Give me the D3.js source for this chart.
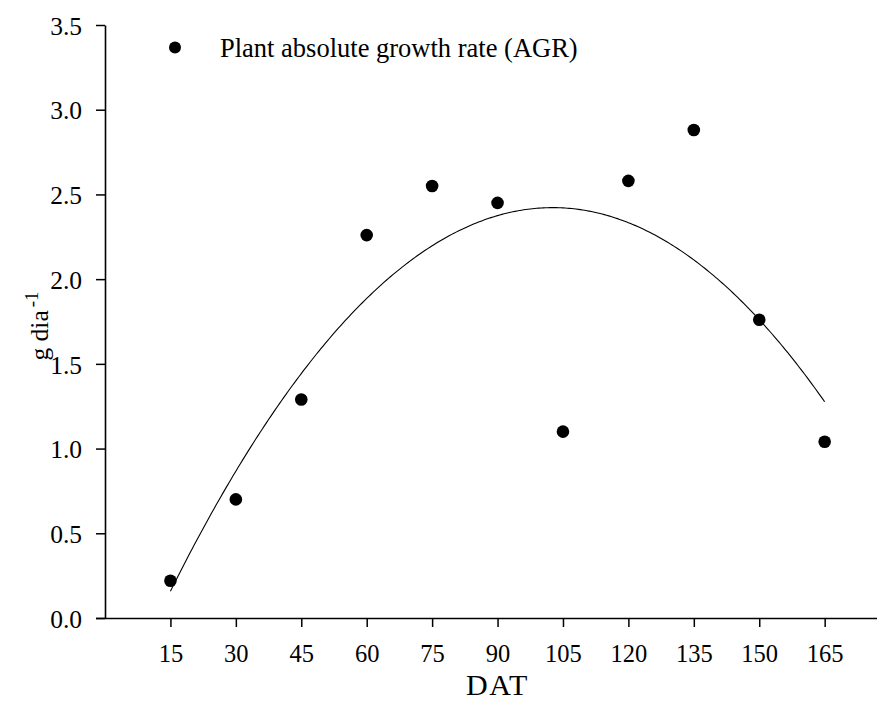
<!DOCTYPE html>
<html>
<head>
<meta charset="utf-8">
<script src="https://cdn.jsdelivr.net/npm/d3@7"></script>
<style>
  html, body { margin: 0; padding: 0; background: #fff; }
  svg { display: block; }
  text { font-family: "Liberation Serif", "Times New Roman", serif; fill: #000; }
</style>
</head>
<body>
<svg id="chart" width="877" height="701"></svg>
<script>
// Days after transplanting and plant absolute growth rate (g dia^-1)
const days = [15, 30, 45, 60, 75, 90, 105, 120, 135, 150, 165];
const agr = [0.22, 0.70, 1.29, 2.26, 2.55, 2.45, 1.10, 2.58, 2.88, 1.76, 1.04];
const xTicks = [15, 30, 45, 60, 75, 90, 105, 120, 135, 150, 165];
const yTicks = [0, 0.5, 1.0, 1.5, 2.0, 2.5, 3.0, 3.5];
const legendLabel = "Plant absolute growth rate (AGR)";

const svg = d3.select("#chart");
const plotLeft = 105, plotRight = 877, plotTop = 25, plotBottom = 618;

const x = d3.scaleLinear().domain([0, 177]).range([plotLeft, plotRight]);
const y = d3.scaleLinear().domain([0, 3.5]).range([plotBottom, plotTop]);

// Second-order polynomial fitted by least squares to the measured rates
function quadFit(xs, ys) {
  const s = [0, 0, 0, 0, 0], t = [0, 0, 0];
  xs.forEach((xi, i) => {
    let p = 1;
    for (let k = 0; k < 5; k++) { s[k] += p; if (k < 3) t[k] += p * ys[i]; p *= xi; }
  });
  const A = [[s[0], s[1], s[2], t[0]], [s[1], s[2], s[3], t[1]], [s[2], s[3], s[4], t[2]]];
  for (let c = 0; c < 3; c++) {
    for (let r = c + 1; r < 3; r++) {
      const f = A[r][c] / A[c][c];
      for (let k = c; k < 4; k++) A[r][k] -= f * A[c][k];
    }
  }
  const b = [0, 0, 0];
  for (let r = 2; r >= 0; r--) {
    let v = A[r][3];
    for (let k = r + 1; k < 3; k++) v -= A[r][k] * b[k];
    b[r] = v / A[r][r];
  }
  return xv => b[0] + b[1] * xv + b[2] * xv * xv;
}
const fit = quadFit(days, agr);
const fitPts = d3.range(days[0], days[days.length - 1] + 0.01, 0.5).map(d => [d, fit(d)]);

// Axes
const xAxis = d3.axisBottom(x).tickValues(xTicks).tickSize(9).tickPadding(18).tickSizeOuter(0);
const yAxis = d3.axisLeft(y).tickValues(yTicks).tickSize(9).tickPadding(14).tickSizeOuter(0)
  .tickFormat(d3.format(".1f"));

const gx = svg.append("g").attr("transform", `translate(0,${plotBottom})`).call(xAxis);
const gy = svg.append("g").attr("transform", `translate(${plotLeft},0)`).call(yAxis);
[gx, gy].forEach(g => {
  g.select(".domain").attr("stroke", "#000").attr("stroke-width", 1.6);
  g.selectAll(".tick line").attr("stroke", "#000").attr("stroke-width", 1.5);
  g.selectAll(".tick text").attr("font-size", 24.5).attr("font-family", "Liberation Serif");
});
gy.selectAll(".tick text").attr("font-size", 25.5).attr("dy", "0.36em");
// x-axis line starts at the 0.0 tick
gx.select(".domain").attr("d", `M${plotLeft - 9},0.5H${plotRight}`);

// Fitted curve
svg.append("path")
  .datum(fitPts)
  .attr("fill", "none")
  .attr("stroke", "#000")
  .attr("stroke-width", 1.1)
  .attr("d", d3.line().x(d => x(d[0])).y(d => y(d[1])));

// Observed points
svg.append("g").selectAll("circle")
  .data(days.map((d, i) => [d, agr[i]]))
  .join("circle")
  .attr("cx", d => x(d[0]))
  .attr("cy", d => y(d[1]))
  .attr("r", 6.3)
  .attr("fill", "#000");

// Legend
const lg = svg.append("g");
lg.append("circle").attr("cx", 175).attr("cy", 47.5).attr("r", 6).attr("fill", "#000");
lg.append("text").attr("x", 220).attr("y", 57).attr("font-size", 26.5).text(legendLabel);

// Axis titles
svg.append("text")
  .attr("x", x(90)).attr("y", 695)
  .attr("text-anchor", "middle")
  .attr("font-size", 30)
  .attr("letter-spacing", 1.5)
  .text("DAT");

const yl = svg.append("text")
  .attr("transform", `translate(48,326) rotate(-90)`)
  .attr("text-anchor", "middle")
  .attr("font-size", 25.5);
yl.append("tspan").text("g dia");
yl.append("tspan").attr("dy", -10).attr("font-size", 19).attr("dx", 3).text("-1");
</script>
</body>
</html>
